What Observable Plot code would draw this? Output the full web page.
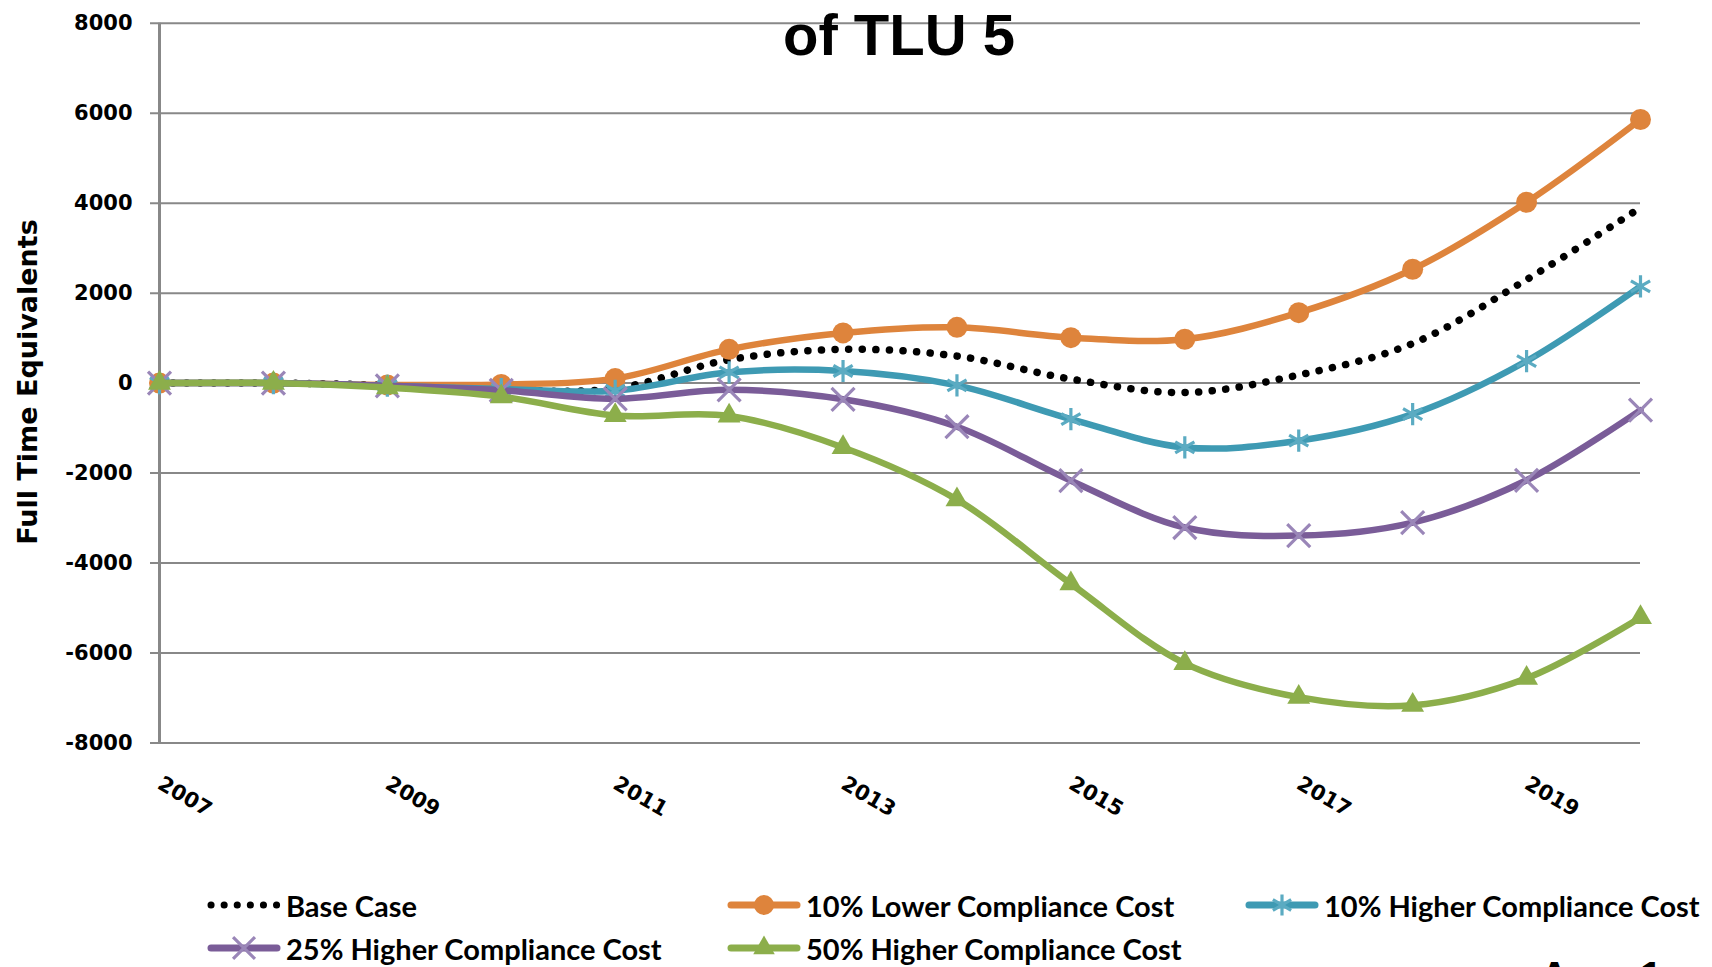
<!DOCTYPE html>
<html>
<head>
<meta charset="utf-8">
<script src="https://cdn.jsdelivr.net/npm/d3@7"></script>
<script src="https://cdn.jsdelivr.net/npm/@observablehq/plot@0.6"></script>
<style>
  html, body { margin: 0; padding: 0; background: #fff; }
  #wrap { position: relative; width: 1712px; height: 967px; overflow: hidden; background: #fff; }
  #chart { position: absolute; left: 0; top: 0; }
  .title { position: absolute; left: 399px; width: 1000px; top: 6px; text-align: center;
           font-family: "Liberation Sans", Arial, sans-serif; font-weight: bold; font-size: 58px; line-height: 1; color: #000; }
  .ylabel { position: absolute; left: 27px; top: 382px; transform: translate(-50%, -50%) rotate(-90deg);
            white-space: nowrap; font-family: "DejaVu Sans", sans-serif; font-weight: bold; font-size: 27px; color: #000; }
  .leg { position: absolute; display: flex; align-items: center; height: 40px; transform: translateY(-50%); }
  .leg span { font-family: Lato, "Open Sans", sans-serif; font-weight: bold; font-size: 29px; color: #000; margin-left: 5px; white-space: nowrap; }
  .cut { position: absolute; left: 1540px; top: 956px; font-family: "Liberation Sans", Arial, sans-serif; font-weight: bold; font-size: 40px; line-height: 1; color: #000; }
</style>
</head>
<body>
<div id="wrap">
  <div id="chart"></div>
  <div class="title">of TLU 5</div>
  <div class="ylabel">Full Time Equivalents</div>
  <div id="legend"></div>
  <div class="cut">Area 1</div>
</div>
<script>
const years = [2007, 2008, 2009, 2010, 2011, 2012, 2013, 2014, 2015, 2016, 2017, 2018, 2019, 2020];
const xLabelYears = [2007, 2009, 2011, 2013, 2015, 2017, 2019];
const yTicks = [-8000, -6000, -4000, -2000, 0, 2000, 4000, 6000, 8000];

const seriesNames = [
  "Base Case",
  "10% Lower Compliance Cost",
  "10% Higher Compliance Cost",
  "25% Higher Compliance Cost",
  "50% Higher Compliance Cost"
];
const baseCase     = [0, 0, -50, -150, -120, 520, 750, 600, 90, -210, 180, 880, 2300, 3900];
const lower10      = [0, 0, -40, -30, 100, 750, 1115, 1240, 1010, 975, 1565, 2530, 4020, 5860];
const higher10     = [0, 0, -60, -130, -170, 240, 270, -50, -800, -1430, -1280, -690, 490, 2150];
const higher25     = [0, 0, -60, -160, -350, -150, -360, -970, -2170, -3210, -3390, -3100, -2160, -600];
const higher50     = [0, 0, -100, -300, -720, -730, -1430, -2590, -4460, -6230, -6980, -7160, -6560, -5210];

const lineColors   = ["#000000", "#DE843C", "#3E9AB3", "#7A5C98", "#8CAE4B"];
const markColors   = ["#000000", "#DE843C", "#5BABC2", "#9A86B8", "#8CAE4B"];
const symbols      = [null, "circle", "asterisk", "times", "triangle"];

const seriesValues = [baseCase, lower10, higher10, higher25, higher50];
const rows = seriesValues.map((vals, s) => years.map((yr, i) => ({year: yr, value: vals[i], s})));

const marks = [
  Plot.ruleY(yTicks, {stroke: "#888", strokeWidth: 2, insetLeft: -9}),
  Plot.ruleX([years[0]], {stroke: "#888", strokeWidth: 3}),
  Plot.axisY({ticks: yTicks, tickSize: 0, tickPadding: 27, tickFormat: d => String(d),
              fontSize: 21, fontWeight: "bold", fontFamily: "DejaVu Sans", label: null}),
  Plot.axisX({ticks: xLabelYears, tickSize: 0, tickPadding: 39, tickRotate: 30, tickFormat: d => String(d),
              fontSize: 21, fontWeight: "bold", fontFamily: "DejaVu Sans", label: null,
              textAnchor: "start"})
];

rows.forEach((data, s) => {
  if (s === 0) {
    marks.push(Plot.line(data, {x: "year", y: "value", curve: "catmull-rom", stroke: lineColors[0],
      strokeWidth: 7.5, strokeDasharray: "0.1 13.5", strokeLinecap: "round"}));
  } else {
    marks.push(Plot.line(data, {x: "year", y: "value", curve: "catmull-rom", stroke: lineColors[s], strokeWidth: 6.5}));
    const sym = symbols[s];
    const filled = sym === "circle" || sym === "triangle";
    marks.push(Plot.dot(data, {x: "year", y: "value", symbol: () => sym,
      r: sym === "triangle" ? 8.5 : 10.5,
      fill: filled ? markColors[s] : "none",
      stroke: markColors[s], strokeWidth: filled ? 0 : 3.2}));
  }
});

const chart = Plot.plot({
  width: 1712,
  height: 830,
  marginLeft: 159,
  marginRight: 72,
  marginTop: 22.7,
  marginBottom: 87.5,
  x: {domain: [2007, 2020]},
  y: {domain: [-8000, 8000]},
  style: {background: "transparent", overflow: "visible"},
  marks
});
document.getElementById("chart").appendChild(chart);

// Legend
const legendPos = [
  {left: 207, top: 905}, {left: 727, top: 905}, {left: 1245, top: 905},
  {left: 207, top: 948}, {left: 727, top: 948}
];
const legend = document.getElementById("legend");
seriesNames.forEach((name, s) => {
  const item = document.createElement("div");
  item.className = "leg";
  item.style.left = legendPos[s].left + "px";
  item.style.top = legendPos[s].top + "px";
  const w = 74, h = 30;
  const svg = d3.create("svg").attr("width", w).attr("height", h);
  if (s === 0) {
    svg.append("line").attr("x1", 4).attr("x2", w - 3).attr("y1", h / 2).attr("y2", h / 2)
      .attr("stroke", "#000").attr("stroke-width", 7).attr("stroke-dasharray", "0.1 13").attr("stroke-linecap", "round");
  } else {
    svg.append("line").attr("x1", 4).attr("x2", w - 4).attr("y1", h / 2).attr("y2", h / 2)
      .attr("stroke", lineColors[s]).attr("stroke-width", 7).attr("stroke-linecap", "round");
    const symMap = {circle: d3.symbolCircle, asterisk: d3.symbolAsterisk, times: d3.symbolTimes, triangle: d3.symbolTriangle};
    const r = symbols[s] === "triangle" ? 8 : 10;
    const filled = symbols[s] === "circle" || symbols[s] === "triangle";
    svg.append("path").attr("transform", `translate(${w / 2},${h / 2})`)
      .attr("d", d3.symbol(symMap[symbols[s]], Math.PI * r * r)())
      .attr("fill", filled ? markColors[s] : "none")
      .attr("stroke", filled ? "none" : markColors[s]).attr("stroke-width", 3.2);
  }
  item.appendChild(svg.node());
  const label = document.createElement("span");
  label.textContent = name;
  item.appendChild(label);
  legend.appendChild(item);
});
</script>
</body>
</html>
